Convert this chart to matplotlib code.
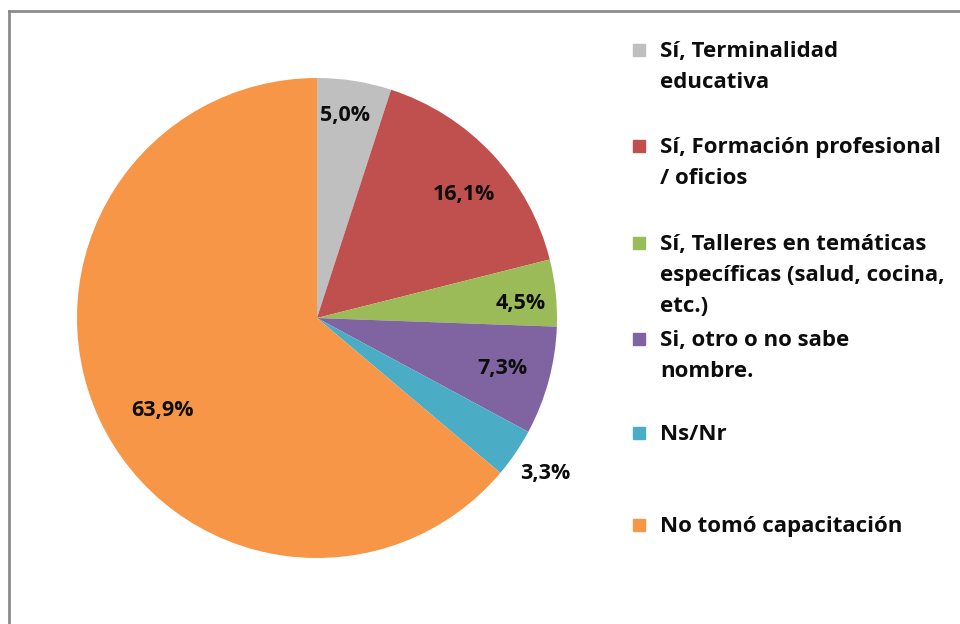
import numpy as np
import matplotlib.pyplot as plt
from matplotlib.patches import Rectangle
from matplotlib.lines import Line2D

# Data
labels = ['Sí, Terminalidad\neducativa',
          'Sí, Formación profesional\n/ oficios',
          'Sí, Talleres en temáticas\nespecíficas (salud, cocina,\netc.)',
          'Si, otro o no sabe\nnombre.',
          'Ns/Nr',
          'No tomó capacitación']
values = [5.0, 16.1, 4.5, 7.3, 3.3, 63.9]
value_text = ['5,0%', '16,1%', '4,5%', '7,3%', '3,3%', '63,9%']
colors = ['#BFBFBF', '#C0504D', '#9BBB59', '#8064A2', '#4BACC6', '#F79646']

# label distance from centre (fraction of radius)
label_r = [0.85, 0.80, 0.85, 0.80, 1.15, 0.75]
label_shift = [1, -3, -2, 0, 0, 6]  # degrees

plt.rcParams['font.family'] = ['Open Sans', 'DejaVu Sans']

fig = plt.figure(figsize=(9.6, 6.24), dpi=100)
W, H = 960, 624

# pie centre (317, 318) px, radius 240 px
cx, cy, R = 317, 318, 240
ax = fig.add_axes([(cx - R) / W, (H - cy - R) / H, 2 * R / W, 2 * R / H])
wedges, _ = ax.pie(values, colors=colors, startangle=90, counterclock=False,
                   radius=1.0, wedgeprops=dict(linewidth=0))
ax.set_xlim(-1, 1)
ax.set_ylim(-1, 1)
ax.set_aspect('auto')

for w, txt, r, sh in zip(wedges, value_text, label_r, label_shift):
    ang = np.deg2rad((w.theta1 + w.theta2) / 2 + sh)
    ax.text(r * np.cos(ang), r * np.sin(ang), txt, ha='center', va='center',
            fontsize=15.5, fontweight='bold', color='#0d0d0d')

# legend drawn by hand (entries spread like in the original)
entry_y = [50, 146, 243, 339, 433, 525]
for lab, col, y in zip(labels, colors, entry_y):
    fig.patches.append(Rectangle((633 / W, (H - y - 6) / H), 12 / W, 12 / H,
                                 transform=fig.transFigure, color=col))
    fig.text(660 / W, (H - y + 9) / H, lab, ha='left', va='top',
             fontsize=16, fontweight='bold', color='#0d0d0d', linespacing=1.62)

# frame (top and left edges visible)
fig.add_artist(Line2D([9 / W, 1], [(H - 11) / H, (H - 11) / H],
                      transform=fig.transFigure, color='#8c8c8c', lw=2))
fig.add_artist(Line2D([9 / W, 9 / W], [0, (H - 11) / H],
                      transform=fig.transFigure, color='#8c8c8c', lw=2))

fig.savefig('out.png', dpi=100, facecolor='white')
